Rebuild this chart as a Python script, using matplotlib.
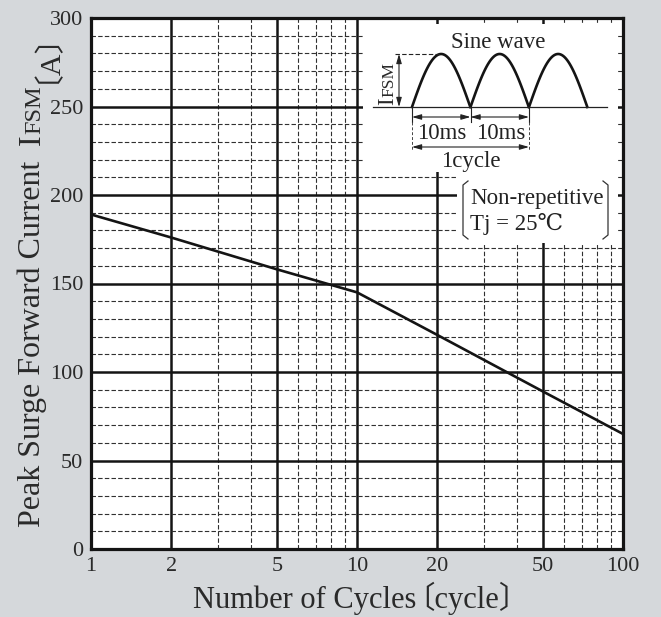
import numpy as np
import matplotlib
matplotlib.use('Agg')
import matplotlib.pyplot as plt
from matplotlib.patches import Rectangle
from matplotlib.ticker import NullFormatter

# ---------------- data ----------------
cycles = [1, 2, 5, 10, 20, 50, 100]
ifsm = [189, 176, 158, 145, 121, 89, 65]

x_major = [1, 2, 5, 10, 20, 50, 100]
x_labels = ['1', '2', '5', '10', '20', '50', '100']
x_minor = [3, 4, 6, 7, 8, 9, 30, 40, 60, 70, 80, 90]
y_major = [0, 50, 100, 150, 200, 250, 300]
y_labels = ['0', '50', '100', '150', '200', '250', '300']
y_minor = [10, 20, 30, 40, 60, 70, 80, 90, 110, 120, 130, 140, 160, 170, 180,
           190, 210, 220, 230, 240, 260, 270, 280, 290]

x_title_main = 'Number of Cycles'
x_title_unit = '〔cycle〕'
y_title_main = 'Peak Surge Forward Current'
y_title_sym = 'I'
y_title_sub = 'FSM'
y_title_unit = '〔A〕'

# ---------------- style ----------------
BG = '#d5d8db'
INK = '#141414'
SERIF = ['Liberation Serif', 'DejaVu Serif', 'Noto Sans CJK JP']

W, H = 661, 617
fig = plt.figure(figsize=(W / 100, H / 100), dpi=100, facecolor=BG)

L, R, T, B = 91, 623, 18, 549
ax = fig.add_axes([L / W, 1 - B / H, (R - L) / W, (B - T) / H])
ax.set_facecolor('white')
ax.set_xscale('log')
ax.set_xlim(1, 100)
ax.set_ylim(0, 300)
ax.set_xticks(x_major)
ax.set_xticklabels(x_labels)
ax.set_xticks(x_minor, minor=True)
ax.xaxis.set_minor_formatter(NullFormatter())
ax.set_yticks(y_major)
ax.set_yticklabels(y_labels)
ax.set_yticks(y_minor, minor=True)
ax.tick_params(which='both', length=0)
ax.tick_params(which='major', labelsize=16, pad=5.5, colors='#2a2a2a')
for lbl in ax.get_xticklabels() + ax.get_yticklabels():
    lbl.set_fontfamily(SERIF)

ax.set_axisbelow(True)
ax.grid(which='major', color=INK, lw=1.8)
ax.grid(which='minor', color='#303030', lw=0.8, ls=(0, (4, 2)))
for s in ax.spines.values():
    s.set_linewidth(2.3)
    s.set_color(INK)
    s.set_zorder(4)

ax.plot(cycles, ifsm, color=INK, lw=1.9, zorder=3, solid_capstyle='butt')

# overlay in pixel coordinates for the annotation drawing
ov = fig.add_axes([0, 0, 1, 1], zorder=5)
ov.set_xlim(0, W)
ov.set_ylim(H, 0)
ov.axis('off')
ov.patch.set_visible(False)

# white masks behind the inset annotations
ax.add_patch(Rectangle((363, 24), 618 - 363, 172 - 24, transform=ov.transData,
                       fc='white', ec='none', zorder=1))
ax.add_patch(Rectangle((457, 171), 618 - 457, 243 - 171, transform=ov.transData,
                       fc='white', ec='none', zorder=1))

# ---- sine-wave sketch ----
base_y, peak_y = 107, 54
starts = [412, 470.5, 529]
hw = 58.3
tt = np.linspace(0, 1, 80)
for x0 in starts:
    ov.plot(x0 + tt * hw, base_y - (base_y - peak_y) * np.sin(np.pi * tt),
            color=INK, lw=1.9)
ov.plot([373, 607], [base_y, base_y], color='#222', lw=0.9)
ov.plot([395, 441], [peak_y, peak_y], color='#222', lw=0.8, ls=(0, (4, 2)))

arrow = dict(arrowstyle='<|-|>,head_length=0.55,head_width=0.16',
             color='#222', lw=0.8, shrinkA=0, shrinkB=0, mutation_scale=10)
ov.annotate('', xy=(399, peak_y), xytext=(399, base_y), arrowprops=arrow)
ov.annotate('', xy=(412, 117), xytext=(470.5, 117), arrowprops=arrow)
ov.annotate('', xy=(470.5, 117), xytext=(529, 117), arrowprops=arrow)
ov.annotate('', xy=(412, 147), xytext=(529, 147), arrowprops=arrow)
for xv in starts:
    ov.plot([xv, xv], [108, 122], color='#222', lw=0.8)
for xv in (412, 529):
    ov.plot([xv, xv], [122, 151], color='#444', lw=0.7, ls=(0, (3, 2)))

ov.text(498, 48, 'Sine wave', fontsize=16.5, family=SERIF, ha='center',
        va='baseline', color='#222')
ov.text(442, 139, '10ms', fontsize=16.5, family=SERIF, ha='center',
        va='baseline', color='#222')
ov.text(501, 139, '10ms', fontsize=16.5, family=SERIF, ha='center',
        va='baseline', color='#222')
ov.text(471, 167, '1cycle', fontsize=16.5, family=SERIF, ha='center',
        va='baseline', color='#222')
ov.text(470, 204, 'Non-repetitive', fontsize=16.5, family=SERIF, ha='left',
        va='baseline', color='#222')
ov.text(470, 230, 'Tj = 25℃', fontsize=16.5, family=SERIF, ha='left',
        va='baseline', color='#222')
# brackets
ov.plot([468, 463, 463, 468], [181, 185, 235, 239], color='#333', lw=0.9)
ov.plot([603, 608, 608, 603], [181, 185, 235, 239], color='#333', lw=0.9)

renderer = fig.canvas.get_renderer()


def text_w(s, size):
    t = fig.text(0, 0, s, fontsize=size, family=SERIF)
    w = t.get_window_extent(renderer).width
    t.remove()
    return w


def vtext(x, y, s, size):
    ov.text(x, y, s, fontsize=size, family=SERIF, rotation=90,
            rotation_mode='anchor', ha='left', va='baseline', color='#2a2a2a')
    return y - text_w(s, size)


def htext(x, y, s, size):
    ov.text(x, y, s, fontsize=size, family=SERIF, ha='left',
            va='baseline', color='#2a2a2a')
    return x + text_w(s, size)


# IFSM in the sketch
yy = vtext(393, 105, 'I', 16.5)
vtext(393, yy, 'FSM', 12.5)

# y axis title
vtext(40, 527, y_title_main, 23)
yy = vtext(40, 145, y_title_sym, 23)
yy = vtext(40, yy, y_title_sub, 17.5)
vtext(40, yy - 3, y_title_unit, 21.5)

# x axis title
xx = htext(193, 608, x_title_main, 22)
htext(xx - 12, 608, x_title_unit, 22)

fig.savefig('out.png', dpi=100, facecolor=BG)
